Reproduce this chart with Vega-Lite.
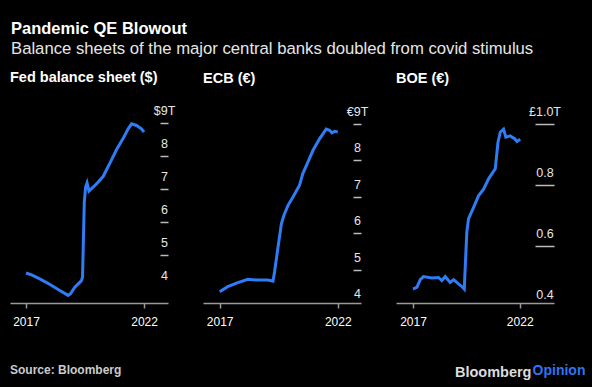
{
  "$schema": "https://vega.github.io/schema/vega-lite/v6.json",
  "background": "black",
  "padding": {"left": 10, "top": 21, "right": 6, "bottom": 8},
  "title": {
    "text": "Pandemic QE Blowout",
    "subtitle": "Balance sheets of the major central banks doubled from covid stimulus",
    "anchor": "start",
    "font": "Liberation Sans",
    "fontSize": 16.5,
    "fontWeight": "bold",
    "color": "white",
    "subtitleFont": "Liberation Sans",
    "subtitleFontSize": 16.7,
    "subtitleColor": "#e6e6e6",
    "subtitlePadding": 3,
    "offset": 13,
    "dx": 1
  },
  "spacing": 0,
  "vconcat": [
    {
      "title": {"text": "Opinion", "orient": "bottom", "anchor": "end", "fontSize": 14, "fontWeight": "bold", "color": "#2f74f0", "offset": -16, "dx": 25},
      "spacing": 0,
      "vconcat": [
        {
          "title": {"text": "Bloomberg", "orient": "bottom", "anchor": "end", "fontSize": 14.5, "fontWeight": "bold", "color": "#dddddd", "offset": -10, "dx": -29},
          "spacing": 0,
          "vconcat": [
            {
              "title": {"text": "Source: Bloomberg", "orient": "bottom", "anchor": "start", "fontSize": 12, "fontWeight": "bold", "color": "#cccccc", "offset": 38},
              "spacing": 35,
              "bounds": "flush",
              "hconcat": [
                {
                  "title": {"text": "Fed balance sheet ($)"},
                  "width": 158,
                  "height": 196,
                  "data": {"values": [
                    {"date": "2017-11-01", "value": 4.47},
                    {"date": "2018-01-26", "value": 4.41},
                    {"date": "2018-06-02", "value": 4.29},
                    {"date": "2018-11-07", "value": 4.12},
                    {"date": "2019-04-08", "value": 3.94},
                    {"date": "2019-08-14", "value": 3.79},
                    {"date": "2019-09-20", "value": 3.84},
                    {"date": "2019-11-25", "value": 4.04},
                    {"date": "2020-02-14", "value": 4.19},
                    {"date": "2020-03-10", "value": 4.25},
                    {"date": "2020-03-24", "value": 4.35},
                    {"date": "2020-04-20", "value": 6.6},
                    {"date": "2020-05-10", "value": 7.07},
                    {"date": "2020-06-02", "value": 7.2},
                    {"date": "2020-07-01", "value": 6.95},
                    {"date": "2020-10-26", "value": 7.17},
                    {"date": "2021-02-07", "value": 7.4},
                    {"date": "2021-05-21", "value": 7.8},
                    {"date": "2021-09-02", "value": 8.21},
                    {"date": "2021-12-13", "value": 8.55},
                    {"date": "2022-02-28", "value": 8.84},
                    {"date": "2022-04-22", "value": 8.99},
                    {"date": "2022-07-08", "value": 8.94},
                    {"date": "2022-09-20", "value": 8.84},
                    {"date": "2022-11-01", "value": 8.74}
                  ]},
                  "mark": {"type": "line", "color": "#2e7cf6", "strokeWidth": 3},
                  "encoding": {
                    "x": {"field": "date", "type": "temporal",
                      "scale": {"domain": [{"year": 2017, "month": 2, "date": 26}, {"year": 2023, "month": 11, "date": 6}], "nice": false},
                      "axis": {"values": [{"year": 2017, "month": 11, "date": 1}, {"year": 2022, "month": 11, "date": 1}], "format": "%Y"}},
                    "y": {"field": "value", "type": "quantitative",
                      "scale": {"domain": [3.56, 9.5], "nice": false, "zero": false},
                      "axis": {"values": [4, 5, 6, 7, 8, 9], "labelExpr": "datum.value == 9 ? '$9T' : datum.label", "tickSize": -8, "labelPadding": 4,
                        "tickOpacity": {"condition": {"test": "datum.value == 4", "value": 0}, "value": 1}}}
                  }
                },
                {
                  "title": {"text": "ECB (€)"},
                  "width": 158,
                  "height": 199,
                  "data": {"values": [
                    {"date": "2017-11-01", "value": 4.39},
                    {"date": "2018-03-05", "value": 4.53},
                    {"date": "2018-08-10", "value": 4.64},
                    {"date": "2019-01-11", "value": 4.73},
                    {"date": "2019-06-13", "value": 4.71},
                    {"date": "2019-11-17", "value": 4.71},
                    {"date": "2020-02-03", "value": 4.68},
                    {"date": "2020-02-28", "value": 4.94},
                    {"date": "2020-04-19", "value": 5.58},
                    {"date": "2020-06-13", "value": 6.26},
                    {"date": "2020-07-22", "value": 6.49},
                    {"date": "2020-09-23", "value": 6.76},
                    {"date": "2020-12-09", "value": 6.99},
                    {"date": "2021-03-20", "value": 7.31},
                    {"date": "2021-05-10", "value": 7.63},
                    {"date": "2021-07-29", "value": 7.95},
                    {"date": "2021-10-15", "value": 8.27},
                    {"date": "2022-01-26", "value": 8.59},
                    {"date": "2022-05-07", "value": 8.85},
                    {"date": "2022-06-27", "value": 8.82},
                    {"date": "2022-08-03", "value": 8.75},
                    {"date": "2022-09-13", "value": 8.79},
                    {"date": "2022-11-01", "value": 8.77}
                  ]},
                  "mark": {"type": "line", "color": "#2e7cf6", "strokeWidth": 3},
                  "encoding": {
                    "x": {"field": "date", "type": "temporal",
                      "scale": {"domain": [{"year": 2017, "month": 2, "date": 16}, {"year": 2023, "month": 10, "date": 27}], "nice": false},
                      "axis": {"values": [{"year": 2017, "month": 11, "date": 1}, {"year": 2022, "month": 11, "date": 1}], "format": "%Y", "offset": -3}},
                    "y": {"field": "value", "type": "quantitative",
                      "scale": {"domain": [4.0, 9.457], "nice": false, "zero": false},
                      "axis": {"values": [4, 5, 6, 7, 8, 9], "labelExpr": "datum.value == 9 ? '€9T' : datum.label", "tickSize": -8, "labelPadding": 4,
                        "tickOpacity": {"condition": {"test": "datum.value == 4", "value": 0}, "value": 1}}}
                  }
                },
                {
                  "title": {"text": "BOE (€)"},
                  "width": 158,
                  "height": 200,
                  "data": {"values": [
                    {"date": "2017-11-01", "value": 0.459},
                    {"date": "2018-01-08", "value": 0.465},
                    {"date": "2018-03-05", "value": 0.49},
                    {"date": "2018-04-29", "value": 0.5},
                    {"date": "2018-09-20", "value": 0.495},
                    {"date": "2019-01-11", "value": 0.497},
                    {"date": "2019-03-09", "value": 0.487},
                    {"date": "2019-05-07", "value": 0.5},
                    {"date": "2019-07-29", "value": 0.481},
                    {"date": "2019-09-27", "value": 0.49},
                    {"date": "2019-12-20", "value": 0.476},
                    {"date": "2020-02-28", "value": 0.465},
                    {"date": "2020-03-27", "value": 0.459},
                    {"date": "2020-05-10", "value": 0.646},
                    {"date": "2020-06-09", "value": 0.69},
                    {"date": "2020-09-05", "value": 0.728},
                    {"date": "2020-11-28", "value": 0.766},
                    {"date": "2021-02-24", "value": 0.788},
                    {"date": "2021-05-17", "value": 0.821},
                    {"date": "2021-09-09", "value": 0.854},
                    {"date": "2021-10-26", "value": 0.942},
                    {"date": "2021-12-05", "value": 0.975},
                    {"date": "2022-01-29", "value": 0.984},
                    {"date": "2022-03-09", "value": 0.958},
                    {"date": "2022-05-21", "value": 0.962},
                    {"date": "2022-08-07", "value": 0.953},
                    {"date": "2022-09-16", "value": 0.944},
                    {"date": "2022-11-10", "value": 0.951}
                  ]},
                  "mark": {"type": "line", "color": "#2e7cf6", "strokeWidth": 3},
                  "encoding": {
                    "x": {"field": "date", "type": "temporal",
                      "scale": {"domain": [{"year": 2017, "month": 1, "date": 14}, {"year": 2024, "month": 6, "date": 10}], "nice": false},
                      "axis": {"values": [{"year": 2017, "month": 11, "date": 1}, {"year": 2022, "month": 11, "date": 1}], "format": "%Y", "offset": -4}},
                    "y": {"field": "value", "type": "quantitative",
                      "scale": {"domain": [0.4, 1.057], "nice": false, "zero": false},
                      "axis": {"values": [0.4, 0.6, 0.8, 1.0], "labelExpr": "datum.value == 1 ? '£1.0T' : format(datum.value, '.1f')", "tickSize": -19, "labelPadding": 9.5,
                        "tickOpacity": {"condition": {"test": "datum.value < 0.5", "value": 0}, "value": 1}}}
                  }
                }
              ]
            }
          ]
        }
      ]
    }
  ],
  "config": {
    "font": "Liberation Sans",
    "view": {"stroke": null},
    "title": {"anchor": "start", "color": "white", "fontSize": 14.5, "fontWeight": "bold", "offset": 19},
    "axisX": {
      "title": null, "grid": false,
      "domainColor": "#9a9a9a", "domainWidth": 1.5,
      "tickColor": "#9a9a9a", "tickSize": 5, "tickWidth": 1.5,
      "labelColor": "white", "labelFontSize": 12, "labelPadding": 8,
      "labelFlush": false, "labelOverlap": false, "labelBound": false
    },
    "axisY": {
      "title": null, "grid": false, "orient": "right",
      "domain": false, "tickColor": "#bbbbbb", "tickWidth": 1.5,
      "labelColor": "#e6e6e6", "labelFontSize": 12.5, "labelAlign": "center", "labelBaseline": "middle", "labelOffset": -12.5,
      "labelFlush": false, "labelOverlap": false, "labelBound": false
    }
  }
}
